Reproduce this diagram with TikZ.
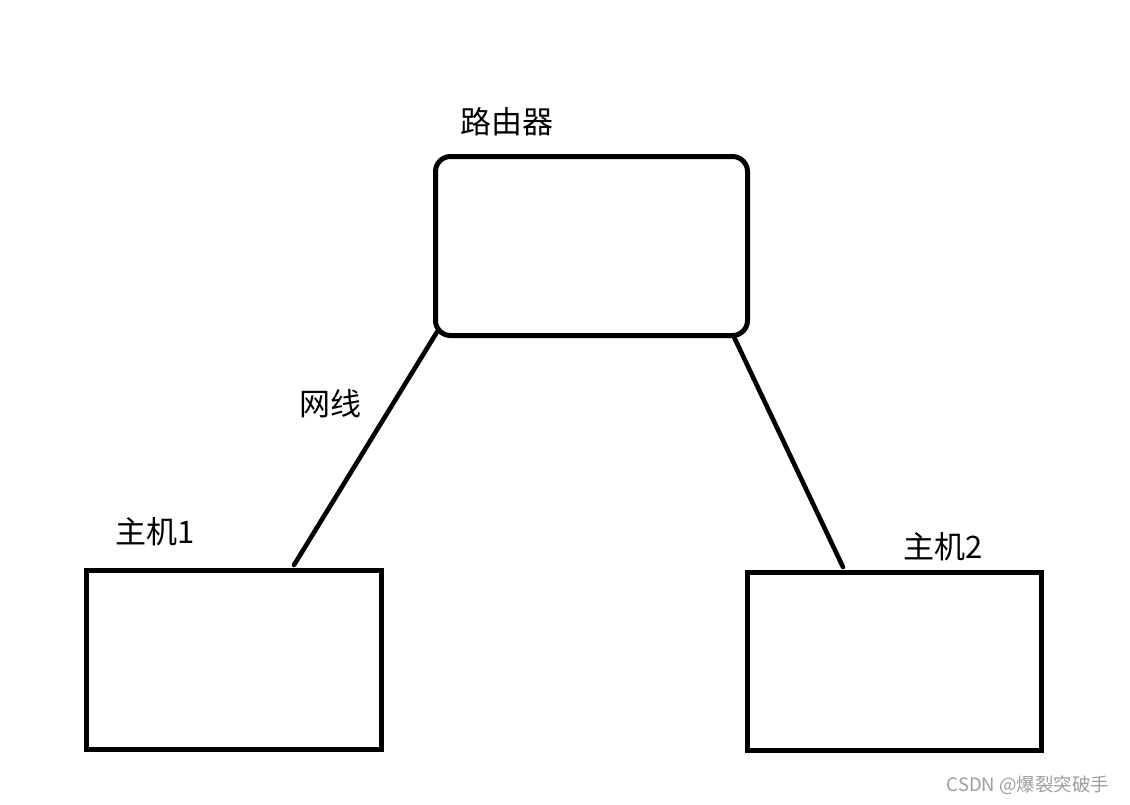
\documentclass[tikz,border=0pt]{standalone}
\usepackage{fontspec}
\setmainfont{Noto Sans CJK SC}
\begin{document}
\begin{tikzpicture}[x=1pt,y=-1pt,
  box/.style={draw=black,line width=5pt,inner sep=0pt,outer sep=0pt},
  wire/.style={draw=black,line width=4.6pt,line cap=round},
  lbl/.style={inner sep=0pt,font=\fontsize{31}{37}\selectfont}]
\useasboundingbox[fill=white] (0,0) rectangle (1130,804);
\node[box,rounded corners=15pt,minimum width=312pt,minimum height=179pt] (router) at (591.5,246) {};
\node[box,minimum width=295pt,minimum height=179pt] (host1) at (233.5,659.5) {};
\node[box,minimum width=294pt,minimum height=178pt] (host2) at (894,661) {};
\draw[wire] ([shift={(1.5,-3.5)}]router.south west) -- ([shift={(60.5,-5)}]host1.north);
\draw[wire] ([shift={(-13.5,1.5)}]router.south east) -- ([shift={(-51,-5)}]host2.north);
\node[lbl] (trouter) at (507,122) {路由器};
\node[lbl] (twire) at (330,404) {网线};
\node[lbl] (thost1) at (155,532) {主机1};
\node[lbl] (thost2) at (943,547) {主机2};
\node[inner sep=0pt,text=black!38,font=\fontsize{18.5}{22}\selectfont] (wm) at (1028,785) {CSDN @爆裂突破手};
\end{tikzpicture}
\end{document}
